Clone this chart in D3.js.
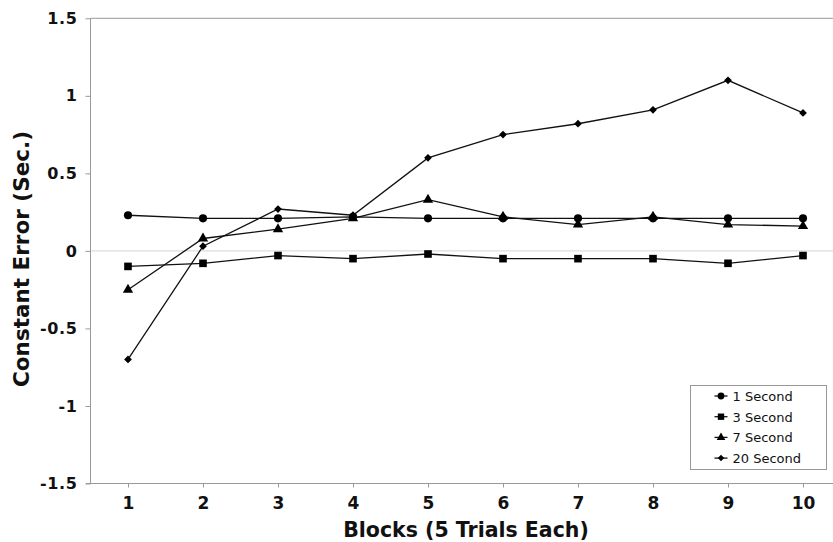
<!DOCTYPE html>
<html>
<head>
<meta charset="utf-8">
<script src="https://cdn.jsdelivr.net/npm/d3@7"></script>
<style>
  html, body { margin: 0; padding: 0; background: #fff; }
  svg { display: block; }
</style>
</head>
<body>
<div id="chart"></div>
<script>
// Constant error by block, one series per delay
const blocks = [1, 2, 3, 4, 5, 6, 7, 8, 9, 10];
const sec1  = [0.23, 0.21, 0.21, 0.22, 0.21, 0.21, 0.21, 0.21, 0.21, 0.21];
const sec3  = [-0.10, -0.08, -0.03, -0.05, -0.02, -0.05, -0.05, -0.05, -0.08, -0.03];
const sec7  = [-0.25, 0.08, 0.14, 0.21, 0.33, 0.22, 0.17, 0.22, 0.17, 0.16];
const sec20 = [-0.70, 0.03, 0.27, 0.23, 0.60, 0.75, 0.82, 0.91, 1.10, 0.89];
const yTicks = [-1.5, -1, -0.5, 0, 0.5, 1, 1.5];
const seriesNames = ["1 Second", "3 Second", "7 Second", "20 Second"];

const W = 833, H = 542;
const FONT = "'DejaVu Sans', Verdana, sans-serif";
const svg = d3.select("#chart").append("svg").attr("width", W).attr("height", H);

// plot area runs past the right edge (cropped like the original)
const x = d3.scalePoint().domain(blocks).range([90.5, 840.5]).padding(0.5);
const y = d3.scaleLinear().domain([-1.5, 1.5]).range([483.5, 18.3]);

const series = [
  {name: seriesNames[0], vals: sec1,  sym: d3.symbolCircle,   size: 52, rot: 0},
  {name: seriesNames[1], vals: sec3,  sym: d3.symbolSquare,   size: 58, rot: 0},
  {name: seriesNames[2], vals: sec7,  sym: d3.symbolTriangle, size: 46, rot: 0},
  {name: seriesNames[3], vals: sec20, sym: d3.symbolSquare,   size: 30, rot: 45}
];

// top frame line
svg.append("line").attr("x1", 90.5).attr("x2", W).attr("y1", y(1.5)).attr("y2", y(1.5))
  .attr("stroke", "#999").attr("stroke-width", 1);

// zero reference line
svg.append("line").attr("x1", 90.5).attr("x2", W).attr("y1", y(0)).attr("y2", y(0))
  .attr("stroke", "#aaa").attr("stroke-width", 1).attr("stroke-dasharray", "1,1");

// y axis
const yAxis = svg.append("g").attr("transform", "translate(90.5,0)")
  .call(d3.axisLeft(y).tickValues(yTicks).tickSize(5).tickPadding(8));
yAxis.select(".domain").attr("stroke", "#999").attr("d", `M0,${y(-1.5)}V${y(1.5)}`);
yAxis.selectAll(".tick line").attr("stroke", "#999");
yAxis.selectAll(".tick text")
  .attr("font-family", FONT).attr("font-weight", "bold").attr("font-size", 16)
  .attr("letter-spacing", 0.6).attr("fill", "#111")
  .text(d => d < 0 ? "-" + Math.abs(d) : d);

// x axis
const xAxis = svg.append("g").attr("transform", `translate(0,${y(-1.5)})`)
  .call(d3.axisBottom(x).tickSize(4).tickPadding(9));
xAxis.select(".domain").attr("stroke", "#999").attr("d", `M86,0H${W}`);
xAxis.selectAll(".tick line").attr("stroke", "#999");
xAxis.selectAll(".tick text")
  .attr("font-family", FONT).attr("font-weight", "bold").attr("font-size", 17).attr("fill", "#111");

// axis titles
svg.append("text").attr("x", 466).attr("y", 537).attr("text-anchor", "middle")
  .attr("font-family", FONT).attr("font-weight", "bold").attr("font-size", 20.5).attr("fill", "#111")
  .text("Blocks (5 Trials Each)");

svg.append("text").attr("transform", "translate(29,259) rotate(-90)").attr("text-anchor", "middle")
  .attr("font-family", FONT).attr("font-weight", "bold").attr("font-size", 21.5).attr("fill", "#111")
  .text("Constant Error (Sec.)");

// series
const line = d3.line().x((d, i) => x(blocks[i])).y(d => y(d));
const sg = svg.append("g");
series.forEach(s => {
  sg.append("path").datum(s.vals).attr("d", line)
    .attr("fill", "none").attr("stroke", "#111").attr("stroke-width", 1.3);
  sg.selectAll(null).data(s.vals).join("path")
    .attr("transform", (d, i) => `translate(${x(blocks[i])},${y(d)}) rotate(${s.rot})`)
    .attr("d", d3.symbol().type(s.sym).size(s.size))
    .attr("fill", "#000");
});

// legend
const lg = svg.append("g").attr("transform", "translate(690.5,385.5)");
lg.append("rect").attr("width", 136).attr("height", 84)
  .attr("fill", "#fff").attr("stroke", "#999");
series.forEach((s, i) => {
  const row = lg.append("g").attr("transform", `translate(0,${10.5 + i * 20.7})`);
  row.append("line").attr("x1", 24).attr("x2", 37).attr("stroke", "#111").attr("stroke-width", 1.3);
  row.append("path").attr("transform", `translate(30.5,0) rotate(${s.rot})`)
    .attr("d", d3.symbol().type(s.sym).size(s.size * 0.7)).attr("fill", "#000");
  row.append("text").attr("x", 42).attr("y", 5)
    .attr("font-family", FONT).attr("font-size", 13).attr("fill", "#111").text(s.name);
});
</script>
</body>
</html>
